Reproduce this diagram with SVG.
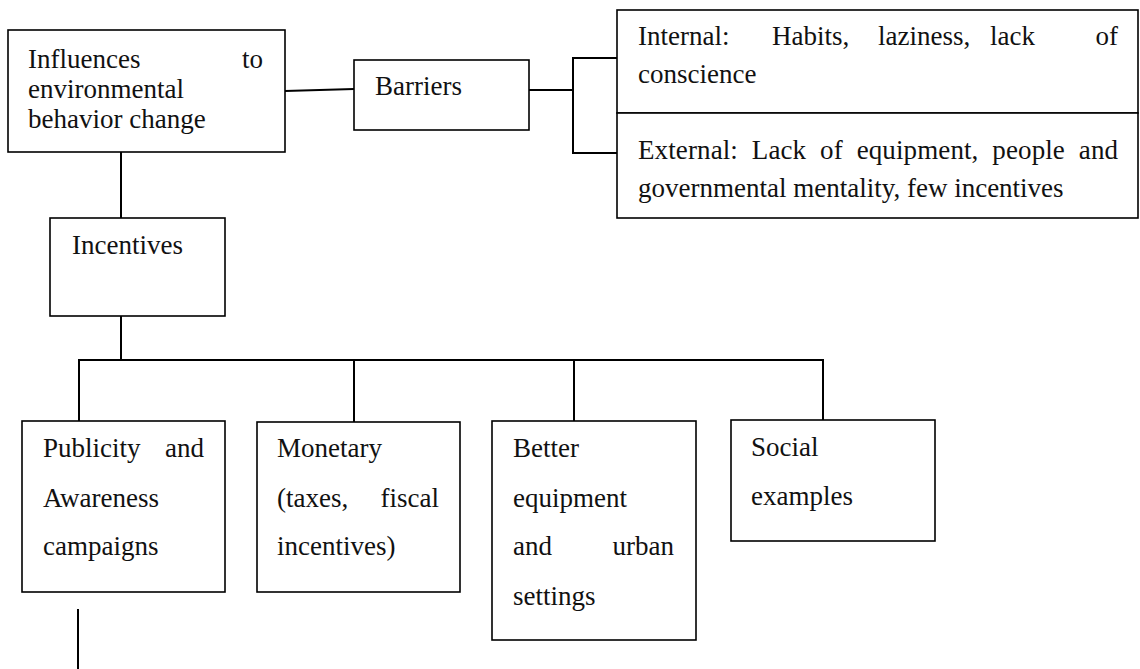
<svg xmlns="http://www.w3.org/2000/svg" width="1140" height="669" viewBox="0 0 1140 669">
<style>
.box{fill:#fff;stroke:#000;stroke-width:1.6}
.c{fill:none;stroke:#000;stroke-width:2}
text{font-family:"Liberation Serif","Times New Roman",serif;font-size:27px;fill:#111}
.e{text-anchor:end}
</style>
<rect width="1140" height="669" fill="#fff"/>
<g id="connectors">
<line class="c" x1="285" y1="91" x2="354" y2="89"/>
<line class="c" x1="529" y1="90" x2="573" y2="90"/>
<path class="c" d="M617,58 H573 V153 H617"/>
<line class="c" x1="121" y1="152" x2="121" y2="218"/>
<line class="c" x1="121" y1="316" x2="121" y2="360"/>
<line class="c" x1="78" y1="360" x2="824" y2="360"/>
<line class="c" x1="79" y1="360" x2="79" y2="421"/>
<line class="c" x1="354" y1="360" x2="354" y2="422"/>
<line class="c" x1="574" y1="360" x2="574" y2="421"/>
<line class="c" x1="823" y1="360" x2="823" y2="420"/>
<line class="c" x1="78" y1="609" x2="78" y2="669"/>
</g>
<g id="influences">
<rect class="box" x="8" y="30" width="277" height="122"/>
<text x="28" y="68">Influences</text>
<text class="e" x="263" y="68">to</text>
<text x="28" y="98">environmental</text>
<text x="28" y="128">behavior change</text>
</g>
<g id="barriers">
<rect class="box" x="354" y="60" width="175" height="70"/>
<text x="375" y="95">Barriers</text>
</g>
<g id="internal">
<rect class="box" x="617" y="10" width="521" height="103"/>
<text x="638" y="45">Internal:</text>
<text x="772" y="45">Habits,</text>
<text x="878" y="45">laziness,</text>
<text x="990" y="45">lack</text>
<text class="e" x="1118" y="45">of</text>
<text x="638" y="83">conscience</text>
</g>
<g id="external">
<rect class="box" x="617" y="113" width="521" height="105"/>
<text x="638" y="159" word-spacing="7" textLength="480" lengthAdjust="spacing">External: Lack of equipment, people and</text>
<text x="638" y="197">governmental mentality, few incentives</text>
</g>
<g id="incentives">
<rect class="box" x="50" y="218" width="175" height="98"/>
<text x="72" y="254">Incentives</text>
</g>
<g id="publicity">
<rect class="box" x="22" y="421" width="203" height="171"/>
<text x="43" y="457">Publicity</text>
<text class="e" x="204" y="457">and</text>
<text x="43" y="507">Awareness</text>
<text x="43" y="555">campaigns</text>
</g>
<g id="monetary">
<rect class="box" x="257" y="422" width="203" height="170"/>
<text x="277" y="457">Monetary</text>
<text x="277" y="507">(taxes,</text>
<text class="e" x="439" y="507">fiscal</text>
<text x="277" y="555">incentives)</text>
</g>
<g id="better">
<rect class="box" x="492" y="421" width="204" height="219"/>
<text x="513" y="457">Better</text>
<text x="513" y="507">equipment</text>
<text x="513" y="555">and</text>
<text class="e" x="674" y="555">urban</text>
<text x="513" y="605">settings</text>
</g>
<g id="social">
<rect class="box" x="731" y="420" width="204" height="121"/>
<text x="751" y="456">Social</text>
<text x="751" y="505">examples</text>
</g>
</svg>
